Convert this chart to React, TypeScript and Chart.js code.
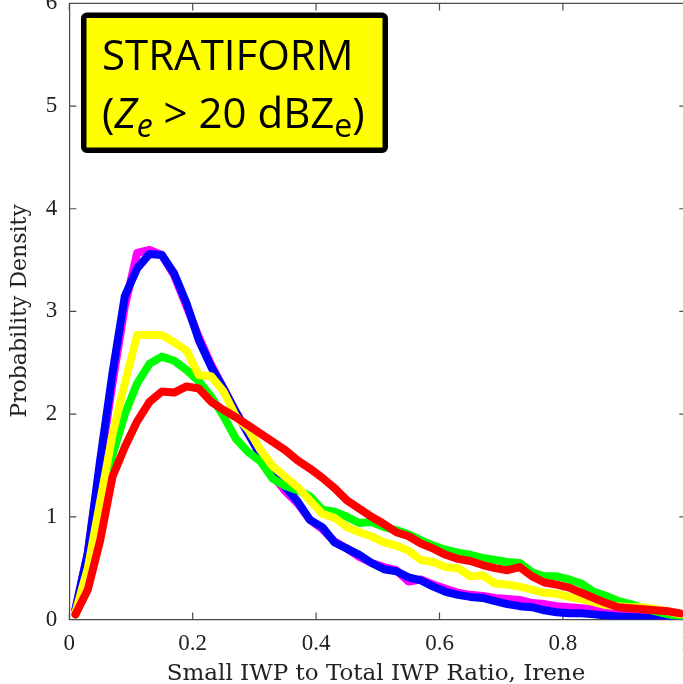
import React, { useEffect, useRef } from "react";
import { Chart, registerables } from "chart.js";

Chart.register(...registerables);

// Bin centres of the ratio histogram
const binCenters = [
  0.01, 0.03, 0.05, 0.07, 0.09, 0.11, 0.13, 0.15, 0.17, 0.19,
  0.21, 0.23, 0.25, 0.27, 0.29, 0.31, 0.33, 0.35, 0.37, 0.39,
  0.41, 0.43, 0.45, 0.47, 0.49, 0.51, 0.53, 0.55, 0.57, 0.59,
  0.61, 0.63, 0.65, 0.67, 0.69, 0.71, 0.73, 0.75, 0.77, 0.79,
  0.81, 0.83, 0.85, 0.87, 0.89, 0.91, 0.93, 0.95, 0.97, 0.99,
];

const magentaSeries = [
  0.1, 0.65, 1.5, 2.3, 3.05, 3.57, 3.6, 3.55, 3.35, 3.05,
  2.75, 2.48, 2.25, 2.02, 1.82, 1.6, 1.4, 1.25, 1.13, 0.97,
  0.88, 0.76, 0.69, 0.61, 0.55, 0.51, 0.48, 0.37, 0.39, 0.34,
  0.3, 0.26, 0.24, 0.23, 0.21, 0.2, 0.19, 0.16, 0.15, 0.13,
  0.12, 0.11, 0.1, 0.09, 0.08, 0.07, 0.05, 0.04, 0.03, 0.015,
];

const blueSeries = [
  0.1, 0.65, 1.55, 2.4, 3.15, 3.42, 3.56, 3.55, 3.37, 3.08,
  2.72, 2.46, 2.25, 2.02, 1.81, 1.6, 1.41, 1.29, 1.15, 0.97,
  0.9, 0.75, 0.69, 0.63, 0.55, 0.49, 0.47, 0.41, 0.38, 0.32,
  0.27, 0.24, 0.22, 0.21, 0.18, 0.15, 0.13, 0.12, 0.09, 0.07,
  0.06, 0.06, 0.05, 0.04, 0.03, 0.025, 0.02, 0.01, 0.005, 0.0,
];

const yellowSeries = [
  0.07, 0.5, 1.15, 1.8, 2.3, 2.77, 2.77, 2.77, 2.7, 2.62,
  2.38, 2.37, 2.22, 1.98, 1.85, 1.65, 1.49, 1.39, 1.29, 1.16,
  1.03, 0.99, 0.9, 0.85, 0.81, 0.75, 0.72, 0.67, 0.58, 0.56,
  0.51, 0.5, 0.42, 0.43, 0.35, 0.34, 0.32, 0.29, 0.26, 0.25,
  0.22, 0.2, 0.17, 0.14, 0.13, 0.12, 0.12, 0.1, 0.08, 0.05,
];

const greenSeries = [
  0.05, 0.4, 1.05, 1.6, 2.0, 2.3, 2.49, 2.56, 2.52, 2.43,
  2.32, 2.17, 1.98, 1.76, 1.63, 1.54, 1.37, 1.3, 1.26, 1.2,
  1.07, 1.05, 1.0, 0.94, 0.95, 0.9, 0.87, 0.83, 0.77, 0.72,
  0.68, 0.65, 0.63, 0.6, 0.58, 0.56, 0.55, 0.46, 0.42, 0.42,
  0.39, 0.35, 0.27, 0.23, 0.18, 0.15, 0.11, 0.08, 0.05, 0.03,
];

const redSeries = [
  0.05, 0.29, 0.77, 1.39, 1.68, 1.93, 2.12, 2.22, 2.21, 2.27,
  2.25, 2.12, 2.04, 1.97, 1.89, 1.81, 1.73, 1.65, 1.55, 1.47,
  1.38, 1.28, 1.16, 1.08, 1.0, 0.93, 0.85, 0.81, 0.74, 0.69,
  0.63, 0.59, 0.57, 0.53, 0.5, 0.48, 0.51, 0.42, 0.36, 0.34,
  0.31, 0.26, 0.21, 0.16, 0.12, 0.11, 0.1, 0.09, 0.08, 0.06,
];

const xTickValues = [0, 0.2, 0.4, 0.6, 0.8, 1];
const yTickValues = [0, 1, 2, 3, 4, 5, 6];
const xTitle = "Small IWP to Total IWP Ratio, Irene";
const yTitle = "Probability Density";
const boxLine1 = "STRATIFORM";

const OFF = 10; // canvas is shifted up by this many px
const CW = 700;
const CH = 700;

export default function App() {
  const ref = useRef<HTMLCanvasElement | null>(null);

  useEffect(() => {
    const canvas = ref.current;
    if (!canvas) return;
    const pts = (vals: number[]) => binCenters.map((x, i) => ({ x, y: vals[i] }));

    const decor = {
      id: "decor",
      beforeDatasetsDraw(chart: any) {
        const { ctx, chartArea } = chart;
        const { left, right, top, bottom } = chartArea;
        const xs = chart.scales.x;
        const ys = chart.scales.y;
        ctx.save();
        ctx.strokeStyle = "#4a4a4a";
        ctx.lineWidth = 1.2;
        ctx.beginPath();
        ctx.moveTo(left, top);
        ctx.lineTo(right, top);
        ctx.lineTo(right, bottom);
        for (const v of xTickValues) {
          const p = xs.getPixelForValue(v);
          ctx.moveTo(p, bottom);
          ctx.lineTo(p, bottom - 7);
          ctx.moveTo(p, top);
          ctx.lineTo(p, top + 7);
        }
        for (const v of yTickValues) {
          const p = ys.getPixelForValue(v);
          ctx.moveTo(left, p);
          ctx.lineTo(left + 7, p);
          ctx.moveTo(right, p);
          ctx.lineTo(right - 7, p);
        }
        ctx.stroke();
        ctx.restore();
      },
      afterDraw(chart: any) {
        const { ctx } = chart;
        ctx.save();
        // axis titles
        ctx.fillStyle = "#222";
        ctx.textAlign = "center";
        ctx.textBaseline = "alphabetic";
        ctx.font = '23px "DejaVu Serif"';
        ctx.fillText(xTitle, 376, 680 + OFF);
        ctx.save();
        ctx.translate(26, 311 + OFF);
        ctx.rotate(-Math.PI / 2);
        ctx.font = '22px "DejaVu Serif"';
        ctx.fillText(yTitle, 0, 0);
        ctx.restore();

        // annotation box
        const bx = 81, by = 12.5 + OFF, bw = 307, bh = 140.5, lw = 5.5;
        ctx.fillStyle = "#ffff00";
        ctx.strokeStyle = "#000";
        ctx.lineWidth = lw;
        ctx.beginPath();
        ctx.roundRect(bx + lw / 2, by + lw / 2, bw - lw, bh - lw, 3);
        ctx.fill();
        ctx.stroke();

        ctx.fillStyle = "#000";
        ctx.textAlign = "left";
        const main = 42;
        const sub = 32;
        const fam = '"Open Sans"';
        ctx.font = `${main}px ${fam}`;
        ctx.fillText(boxLine1, 102, 70 + OFF);

        const segs: [string, string, number][] = [
          ["(", `${main}px ${fam}`, 0],
          ["Z", `italic ${main}px ${fam}`, 0],
          ["e", `italic ${sub}px ${fam}`, 9],
          [" > 20 dBZ", `${main}px ${fam}`, 0],
          ["e", `${sub}px ${fam}`, 9],
          [")", `${main}px ${fam}`, 0],
        ];
        let x = 102;
        for (const [t, f, dy] of segs) {
          ctx.font = f;
          ctx.fillText(t, x, 128 + dy + OFF);
          x += ctx.measureText(t).width;
        }
        ctx.restore();
      },
    };

    const common = {
      borderWidth: 8,
      pointRadius: 0,
      pointHoverRadius: 0,
      tension: 0,
      fill: false,
      borderJoinStyle: "round" as const,
      borderCapStyle: "round" as const,
    };

    const chart = new Chart(canvas, {
      type: "line",
      data: {
        datasets: [
          { ...common, label: "red", data: pts(redSeries), borderColor: "#ff0000", order: 0 },
          { ...common, label: "yellow", data: pts(yellowSeries), borderColor: "#ffff00", order: 1 },
          { ...common, label: "green", data: pts(greenSeries), borderColor: "#00ff00", order: 2 },
          { ...common, label: "blue", data: pts(blueSeries), borderColor: "#0000ff", order: 3 },
          { ...common, label: "magenta", data: pts(magentaSeries), borderColor: "#ff00ff", order: 4 },
        ],
      },
      options: {
        responsive: false,
        animation: false,
        devicePixelRatio: 1,
        layout: {
          autoPadding: false,
          padding: { left: 0, right: CW - 686.3, top: 3.4 + OFF, bottom: 0 },
        },
        plugins: {
          legend: { display: false },
          tooltip: { enabled: false },
          title: { display: false },
        },
        scales: {
          x: {
            type: "linear",
            min: 0,
            max: 1,
            afterFit: (s: any) => {
              s.height = CH - (619.5 + OFF);
              s.paddingLeft = 0;
              s.paddingRight = 0;
              s.paddingTop = 0;
              s.paddingBottom = 0;
            },
            afterBuildTicks: (s: any) => {
              s.ticks = xTickValues.map((v) => ({ value: v }));
            },
            grid: { display: true, drawOnChartArea: false, drawTicks: false },
            border: { display: true, color: "#4a4a4a", width: 1.2 },
            ticks: {
              padding: 11,
              color: "#222",
              font: { family: '"Liberation Serif"', size: 23 },
              maxRotation: 0,
              autoSkip: false,
              callback: (v: any) => String(Number(Number(v).toFixed(2))),
            },
          },
          y: {
            type: "linear",
            min: 0,
            max: 6,
            afterFit: (s: any) => {
              s.width = 69.3;
              s.paddingLeft = 0;
              s.paddingRight = 0;
              s.paddingTop = 0;
              s.paddingBottom = 0;
            },
            afterBuildTicks: (s: any) => {
              s.ticks = yTickValues.map((v) => ({ value: v }));
            },
            grid: { display: true, drawOnChartArea: false, drawTicks: false },
            border: { display: true, color: "#4a4a4a", width: 1.2 },
            ticks: {
              padding: 12,
              color: "#222",
              font: { family: '"Liberation Serif"', size: 23 },
              autoSkip: false,
              callback: (v: any) => String(v),
            },
          },
        },
      },
      plugins: [decor],
    });
    return () => chart.destroy();
  }, []);

  return (
    <div
      style={{
        position: "fixed",
        left: 0,
        top: 0,
        width: 683,
        height: 684,
        overflow: "hidden",
        background: "#fff",
      }}
    >
      <canvas
        ref={ref}
        width={CW}
        height={CH}
        style={{ position: "absolute", left: 0, top: -OFF, width: CW, height: CH }}
      />
    </div>
  );
}
